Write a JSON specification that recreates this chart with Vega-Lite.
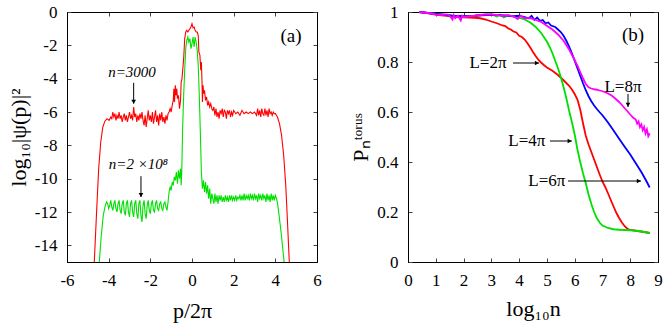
{
  "$schema": "https://vega.github.io/schema/vega-lite/v6.json",
  "background": "white",
  "padding": {"left": 6, "top": 2, "right": 5, "bottom": 5},
  "spacing": 27,
  "config": {
    "font": "Liberation Serif",
    "view": {"stroke": "#000", "strokeWidth": 1}
  },
  "hconcat": [
    {
      "width": 250,
      "height": 250,
      "resolve": {"axis": {"x": "independent", "y": "independent"}},
      "layer": [
        {
          "data": {"values": [
            {"p": -4.69, "v": -15}, {"p": -4.58, "v": -12}, {"p": -4.48, "v": -9.4}, {"p": -4.38, "v": -7.8}, {"p": -4.28, "v": -6.9}, {"p": -4.18, "v": -6.55}, {"p": -4.08, "v": -6.4}, {"p": -3.98, "v": -6.5}, {"p": -3.9, "v": -6.3}, {"p": -3.85, "v": -6.4}, {"p": -3.8, "v": -6.0}, {"p": -3.75, "v": -6.3}, {"p": -3.7, "v": -6.1}, {"p": -3.65, "v": -6.5}, {"p": -3.6, "v": -6.2}, {"p": -3.55, "v": -6.4}, {"p": -3.5, "v": -6.0}, {"p": -3.45, "v": -6.4}, {"p": -3.4, "v": -6.2}, {"p": -3.35, "v": -6.6}, {"p": -3.3, "v": -6.3}, {"p": -3.25, "v": -6.1}, {"p": -3.2, "v": -6.5}, {"p": -3.15, "v": -6.2}, {"p": -3.1, "v": -6.6}, {"p": -3.05, "v": -6.3}, {"p": -3.0, "v": -6.0}, {"p": -2.95, "v": -6.4}, {"p": -2.9, "v": -6.2}, {"p": -2.85, "v": -6.5}, {"p": -2.8, "v": -5.7}, {"p": -2.75, "v": -6.3}, {"p": -2.7, "v": -6.1}, {"p": -2.65, "v": -6.6}, {"p": -2.6, "v": -6.2}, {"p": -2.55, "v": -6.5}, {"p": -2.5, "v": -6.1}, {"p": -2.45, "v": -6.4}, {"p": -2.4, "v": -6.0}, {"p": -2.35, "v": -6.5}, {"p": -2.3, "v": -6.8}, {"p": -2.25, "v": -6.2}, {"p": -2.2, "v": -6.9}, {"p": -2.15, "v": -6.4}, {"p": -2.1, "v": -5.9}, {"p": -2.05, "v": -6.5}, {"p": -2.0, "v": -6.2}, {"p": -1.95, "v": -6.6}, {"p": -1.9, "v": -6.0}, {"p": -1.85, "v": -6.7}, {"p": -1.8, "v": -6.3}, {"p": -1.75, "v": -5.9}, {"p": -1.7, "v": -6.6}, {"p": -1.65, "v": -6.2}, {"p": -1.6, "v": -6.8}, {"p": -1.55, "v": -6.1}, {"p": -1.5, "v": -6.5}, {"p": -1.45, "v": -6.0}, {"p": -1.4, "v": -6.6}, {"p": -1.35, "v": -6.3}, {"p": -1.3, "v": -6.7}, {"p": -1.25, "v": -6.2}, {"p": -1.2, "v": -6.5}, {"p": -1.15, "v": -6.1}, {"p": -1.1, "v": -6.0}, {"p": -1.05, "v": -5.8}, {"p": -1.0, "v": -6.0}, {"p": -0.95, "v": -5.6}, {"p": -0.9, "v": -5.3}, {"p": -0.87, "v": -4.6}, {"p": -0.84, "v": -5.4}, {"p": -0.8, "v": -4.4}, {"p": -0.77, "v": -5.0}, {"p": -0.73, "v": -4.6}, {"p": -0.7, "v": -5.2}, {"p": -0.65, "v": -5.0}, {"p": -0.6, "v": -5.8}, {"p": -0.55, "v": -5.3}, {"p": -0.52, "v": -4.2}, {"p": -0.48, "v": -4.0}, {"p": -0.44, "v": -3.4}, {"p": -0.4, "v": -2.8}, {"p": -0.35, "v": -1.6}, {"p": -0.3, "v": -1.2}, {"p": -0.25, "v": -1.1}, {"p": -0.2, "v": -1.2}, {"p": -0.15, "v": -1.1}, {"p": -0.1, "v": -1.0}, {"p": -0.05, "v": -0.9}, {"p": 0.0, "v": -0.7}, {"p": 0.05, "v": -0.95}, {"p": 0.1, "v": -0.9}, {"p": 0.15, "v": -1.1}, {"p": 0.2, "v": -1.2}, {"p": 0.25, "v": -1.2}, {"p": 0.3, "v": -1.4}, {"p": 0.33, "v": -2.4}, {"p": 0.38, "v": -2.6}, {"p": 0.42, "v": -3.5}, {"p": 0.45, "v": -3.0}, {"p": 0.48, "v": -4.2}, {"p": 0.5, "v": -5.4}, {"p": 0.53, "v": -4.4}, {"p": 0.56, "v": -4.9}, {"p": 0.6, "v": -4.7}, {"p": 0.65, "v": -5.3}, {"p": 0.7, "v": -5.1}, {"p": 0.75, "v": -5.6}, {"p": 0.8, "v": -5.4}, {"p": 0.85, "v": -5.7}, {"p": 0.9, "v": -5.5}, {"p": 0.95, "v": -5.8}, {"p": 1.0, "v": -5.9}, {"p": 1.05, "v": -5.7}, {"p": 1.1, "v": -6.2}, {"p": 1.15, "v": -5.8}, {"p": 1.2, "v": -6.3}, {"p": 1.25, "v": -6.0}, {"p": 1.3, "v": -6.4}, {"p": 1.35, "v": -5.9}, {"p": 1.4, "v": -6.1}, {"p": 1.45, "v": -5.8}, {"p": 1.5, "v": -6.3}, {"p": 1.55, "v": -5.9}, {"p": 1.6, "v": -6.0}, {"p": 1.65, "v": -6.4}, {"p": 1.7, "v": -5.9}, {"p": 1.75, "v": -6.1}, {"p": 1.8, "v": -5.9}, {"p": 1.85, "v": -6.3}, {"p": 1.9, "v": -6.0}, {"p": 1.95, "v": -6.2}, {"p": 2.0, "v": -5.9}, {"p": 2.1, "v": -6.1}, {"p": 2.2, "v": -6.0}, {"p": 2.3, "v": -6.2}, {"p": 2.4, "v": -5.9}, {"p": 2.5, "v": -6.1}, {"p": 2.6, "v": -6.0}, {"p": 2.7, "v": -6.1}, {"p": 2.8, "v": -6.0}, {"p": 2.9, "v": -6.1}, {"p": 3.0, "v": -6.0}, {"p": 3.1, "v": -6.2}, {"p": 3.15, "v": -5.8}, {"p": 3.2, "v": -6.2}, {"p": 3.25, "v": -5.9}, {"p": 3.3, "v": -6.3}, {"p": 3.35, "v": -5.8}, {"p": 3.4, "v": -6.1}, {"p": 3.45, "v": -6.2}, {"p": 3.5, "v": -5.8}, {"p": 3.55, "v": -6.2}, {"p": 3.6, "v": -5.9}, {"p": 3.65, "v": -6.3}, {"p": 3.7, "v": -5.8}, {"p": 3.75, "v": -6.1}, {"p": 3.8, "v": -6.0}, {"p": 3.85, "v": -6.2}, {"p": 3.9, "v": -6.0}, {"p": 3.95, "v": -6.1}, {"p": 4.0, "v": -6.1}, {"p": 4.05, "v": -6.2}, {"p": 4.1, "v": -6.3}, {"p": 4.2, "v": -6.7}, {"p": 4.3, "v": -7.4}, {"p": 4.4, "v": -8.6}, {"p": 4.5, "v": -10.4}, {"p": 4.58, "v": -12.5}, {"p": 4.67, "v": -15}
          ]},
          "mark": {"type": "line", "color": "#ff0000", "strokeWidth": 1.1},
          "encoding": {
            "x": {"field": "p", "type": "quantitative", "scale": {"domain": [-6, 6], "nice": false, "zero": false},
              "axis": {"orient": "bottom", "values": [-6, -4, -2, 0, 2, 4, 6], "labelExpr": "'' + datum.value", "title": "p/2π", "titlePadding": 12,
                "grid": false, "labelFont": "Liberation Serif", "titleFont": "Liberation Serif", "labelFontSize": 17, "titleFontSize": 22, "titleFontWeight": "normal", "labelColor": "#000", "titleColor": "#000", "domainColor": "#000", "tickColor": "#444", "tickSize": -4, "labelPadding": 14, "labelFlush": false, "labelOverlap": false}},
            "y": {"field": "v", "type": "quantitative", "scale": {"domain": [-15, 0], "nice": false, "zero": false},
              "axis": {"orient": "left", "values": [-14, -12, -10, -8, -6, -4, -2, 0], "labelExpr": "'' + datum.value", "title": "log₁₀|ψ(p)|²", "titlePadding": 4,
                "grid": false, "labelFont": "Liberation Serif", "titleFont": "Liberation Serif", "labelFontSize": 17, "titleFontSize": 22, "titleFontWeight": "normal", "labelColor": "#000", "titleColor": "#000", "domainColor": "#000", "tickColor": "#444", "tickSize": -4, "labelPadding": 14, "labelFlush": false, "labelOverlap": false}}
          }
        },
        {
          "data": {"values": [
            {"p": -4.45, "v": -15}, {"p": -4.36, "v": -13.5}, {"p": -4.26, "v": -12.2}, {"p": -4.16, "v": -11.6}, {"p": -4.1, "v": -11.4}, {"p": -4.05, "v": -11.5}, {"p": -4.0, "v": -11.8}, {"p": -3.95, "v": -11.6}, {"p": -3.9, "v": -11.3}, {"p": -3.85, "v": -11.7}, {"p": -3.8, "v": -11.9}, {"p": -3.75, "v": -11.5}, {"p": -3.7, "v": -11.3}, {"p": -3.65, "v": -11.8}, {"p": -3.6, "v": -12.0}, {"p": -3.55, "v": -11.5}, {"p": -3.5, "v": -11.3}, {"p": -3.45, "v": -11.9}, {"p": -3.4, "v": -12.1}, {"p": -3.35, "v": -11.5}, {"p": -3.3, "v": -11.3}, {"p": -3.25, "v": -12.0}, {"p": -3.2, "v": -12.2}, {"p": -3.15, "v": -11.5}, {"p": -3.1, "v": -11.3}, {"p": -3.05, "v": -12.0}, {"p": -3.0, "v": -12.3}, {"p": -2.95, "v": -11.5}, {"p": -2.9, "v": -11.3}, {"p": -2.85, "v": -12.0}, {"p": -2.8, "v": -12.3}, {"p": -2.75, "v": -11.5}, {"p": -2.7, "v": -11.3}, {"p": -2.65, "v": -12.1}, {"p": -2.6, "v": -12.4}, {"p": -2.55, "v": -11.5}, {"p": -2.5, "v": -11.3}, {"p": -2.45, "v": -12.2}, {"p": -2.4, "v": -12.6}, {"p": -2.35, "v": -11.6}, {"p": -2.3, "v": -11.3}, {"p": -2.25, "v": -12.1}, {"p": -2.2, "v": -12.4}, {"p": -2.15, "v": -11.6}, {"p": -2.1, "v": -11.3}, {"p": -2.05, "v": -11.9}, {"p": -2.0, "v": -12.1}, {"p": -1.95, "v": -11.5}, {"p": -1.9, "v": -11.3}, {"p": -1.85, "v": -11.9}, {"p": -1.8, "v": -12.0}, {"p": -1.75, "v": -11.5}, {"p": -1.7, "v": -11.3}, {"p": -1.65, "v": -11.8}, {"p": -1.6, "v": -11.9}, {"p": -1.55, "v": -11.5}, {"p": -1.5, "v": -11.4}, {"p": -1.45, "v": -11.8}, {"p": -1.4, "v": -11.9}, {"p": -1.35, "v": -11.5}, {"p": -1.3, "v": -11.4}, {"p": -1.25, "v": -11.7}, {"p": -1.2, "v": -11.9}, {"p": -1.15, "v": -11.4}, {"p": -1.1, "v": -10.8}, {"p": -1.05, "v": -10.5}, {"p": -1.0, "v": -10.7}, {"p": -0.95, "v": -10.2}, {"p": -0.9, "v": -10.4}, {"p": -0.85, "v": -9.9}, {"p": -0.8, "v": -10.1}, {"p": -0.75, "v": -9.6}, {"p": -0.7, "v": -10.3}, {"p": -0.65, "v": -9.5}, {"p": -0.6, "v": -10.0}, {"p": -0.55, "v": -9.4}, {"p": -0.52, "v": -10.4}, {"p": -0.49, "v": -9.5}, {"p": -0.45, "v": -7.0}, {"p": -0.4, "v": -5.0}, {"p": -0.35, "v": -3.5}, {"p": -0.3, "v": -2.2}, {"p": -0.25, "v": -1.7}, {"p": -0.2, "v": -1.5}, {"p": -0.15, "v": -1.8}, {"p": -0.1, "v": -1.6}, {"p": -0.05, "v": -2.2}, {"p": 0.0, "v": -1.9}, {"p": 0.05, "v": -1.5}, {"p": 0.1, "v": -2.1}, {"p": 0.15, "v": -1.5}, {"p": 0.2, "v": -1.8}, {"p": 0.25, "v": -2.3}, {"p": 0.3, "v": -3.2}, {"p": 0.35, "v": -5.0}, {"p": 0.4, "v": -7.2}, {"p": 0.45, "v": -9.6}, {"p": 0.5, "v": -10.6}, {"p": 0.55, "v": -10.1}, {"p": 0.6, "v": -10.8}, {"p": 0.65, "v": -10.2}, {"p": 0.7, "v": -10.9}, {"p": 0.75, "v": -10.4}, {"p": 0.8, "v": -11.2}, {"p": 0.85, "v": -10.6}, {"p": 0.9, "v": -11.5}, {"p": 0.95, "v": -10.9}, {"p": 1.0, "v": -11.2}, {"p": 1.05, "v": -11.5}, {"p": 1.1, "v": -10.9}, {"p": 1.15, "v": -11.4}, {"p": 1.2, "v": -11.0}, {"p": 1.25, "v": -11.5}, {"p": 1.3, "v": -11.0}, {"p": 1.35, "v": -11.3}, {"p": 1.4, "v": -11.0}, {"p": 1.45, "v": -11.4}, {"p": 1.5, "v": -11.1}, {"p": 1.55, "v": -11.4}, {"p": 1.6, "v": -11.0}, {"p": 1.65, "v": -11.3}, {"p": 1.7, "v": -11.1}, {"p": 1.75, "v": -11.4}, {"p": 1.8, "v": -11.0}, {"p": 1.85, "v": -11.3}, {"p": 1.9, "v": -11.0}, {"p": 1.95, "v": -11.3}, {"p": 2.0, "v": -11.1}, {"p": 2.05, "v": -11.3}, {"p": 2.1, "v": -11.0}, {"p": 2.15, "v": -11.3}, {"p": 2.2, "v": -11.1}, {"p": 2.25, "v": -11.2}, {"p": 2.3, "v": -11.0}, {"p": 2.35, "v": -11.3}, {"p": 2.4, "v": -11.0}, {"p": 2.45, "v": -11.3}, {"p": 2.5, "v": -10.9}, {"p": 2.55, "v": -11.3}, {"p": 2.6, "v": -11.0}, {"p": 2.65, "v": -11.2}, {"p": 2.7, "v": -11.0}, {"p": 2.75, "v": -11.3}, {"p": 2.8, "v": -10.9}, {"p": 2.85, "v": -11.2}, {"p": 2.9, "v": -11.0}, {"p": 2.95, "v": -11.3}, {"p": 3.0, "v": -10.9}, {"p": 3.05, "v": -11.2}, {"p": 3.1, "v": -11.0}, {"p": 3.15, "v": -11.4}, {"p": 3.2, "v": -10.9}, {"p": 3.25, "v": -11.2}, {"p": 3.3, "v": -11.0}, {"p": 3.35, "v": -11.3}, {"p": 3.4, "v": -10.9}, {"p": 3.45, "v": -11.2}, {"p": 3.5, "v": -11.0}, {"p": 3.55, "v": -11.4}, {"p": 3.6, "v": -10.9}, {"p": 3.65, "v": -11.3}, {"p": 3.7, "v": -11.0}, {"p": 3.75, "v": -11.4}, {"p": 3.8, "v": -10.9}, {"p": 3.85, "v": -11.3}, {"p": 3.9, "v": -11.0}, {"p": 3.95, "v": -11.3}, {"p": 4.0, "v": -11.0}, {"p": 4.06, "v": -11.2}, {"p": 4.12, "v": -11.6}, {"p": 4.2, "v": -12.4}, {"p": 4.3, "v": -13.5}, {"p": 4.42, "v": -15}
          ]},
          "mark": {"type": "line", "color": "#00e000", "strokeWidth": 1.1},
          "encoding": {
            "x": {"field": "p", "type": "quantitative", "axis": {"orient": "top", "values": [-6, -4, -2, 0, 2, 4, 6], "labels": false, "title": null, "grid": false, "domainColor": "#000", "tickColor": "#444", "tickSize": -4}},
            "y": {"field": "v", "type": "quantitative", "axis": {"orient": "right", "values": [-14, -12, -10, -8, -6, -4, -2, 0], "labels": false, "title": null, "grid": false, "domainColor": "#000", "tickColor": "#444", "tickSize": -4}}
          }
        },
        {
          "data": {"values": [{"x": -2.8, "y": -4.25, "x2": -2.8, "y2": -5.5}, {"x": -2.45, "y": -9.85, "x2": -2.45, "y2": -11.1}]},
          "mark": {"type": "rule", "color": "#000", "strokeWidth": 1},
          "encoding": {
            "x": {"field": "x", "type": "quantitative", "axis": null},
            "y": {"field": "y", "type": "quantitative", "axis": null},
            "x2": {"field": "x2"},
            "y2": {"field": "y2"}
          }
        },
        {
          "data": {"values": [{"x": -2.8, "y": -5.38}, {"x": -2.45, "y": -10.98}]},
          "mark": {"type": "point", "shape": "triangle-down", "filled": true, "color": "#000", "size": 22, "opacity": 1},
          "encoding": {
            "x": {"field": "x", "type": "quantitative", "axis": null},
            "y": {"field": "y", "type": "quantitative", "axis": null}
          }
        },
        {
          "data": {"values": [{"x": -2.88, "y": -3.6, "t": "n=3000"}, {"x": -2.57, "y": -9.1, "t": "n=2 ×10⁸"}]},
          "mark": {"type": "text", "fontStyle": "italic", "fontSize": 15, "baseline": "middle", "align": "center", "color": "#000"},
          "encoding": {
            "x": {"field": "x", "type": "quantitative", "axis": null},
            "y": {"field": "y", "type": "quantitative", "axis": null},
            "text": {"field": "t"}
          }
        },
        {
          "data": {"values": [{"x": 4.75, "y": -1.44, "t": "(a)"}]},
          "mark": {"type": "text", "fontSize": 19, "baseline": "middle", "align": "center", "color": "#000"},
          "encoding": {
            "x": {"field": "x", "type": "quantitative", "axis": null},
            "y": {"field": "y", "type": "quantitative", "axis": null},
            "text": {"field": "t"}
          }
        }
      ]
    },
    {
      "width": 250,
      "height": 250,
      "resolve": {"axis": {"x": "independent", "y": "independent"}},
      "layer": [
        {
          "data": {"values": [
            {"x": 0.4, "y": 1.0}, {"x": 0.6, "y": 0.997}, {"x": 0.8, "y": 0.994}, {"x": 1.0, "y": 0.99}, {"x": 1.2, "y": 0.987}, {"x": 1.4, "y": 0.985}, {"x": 1.6, "y": 0.982}, {"x": 1.8, "y": 0.98}, {"x": 2.0, "y": 0.979}, {"x": 2.2, "y": 0.978}, {"x": 2.4, "y": 0.977}, {"x": 2.6, "y": 0.975}, {"x": 2.8, "y": 0.97}, {"x": 3.0, "y": 0.962}, {"x": 3.2, "y": 0.955}, {"x": 3.4, "y": 0.946}, {"x": 3.5, "y": 0.944}, {"x": 3.6, "y": 0.935}, {"x": 3.7, "y": 0.93}, {"x": 3.8, "y": 0.922}, {"x": 3.9, "y": 0.918}, {"x": 4.0, "y": 0.905}, {"x": 4.1, "y": 0.9}, {"x": 4.2, "y": 0.89}, {"x": 4.3, "y": 0.875}, {"x": 4.4, "y": 0.858}, {"x": 4.5, "y": 0.84}, {"x": 4.6, "y": 0.823}, {"x": 4.7, "y": 0.808}, {"x": 4.8, "y": 0.797}, {"x": 4.9, "y": 0.787}, {"x": 5.0, "y": 0.778}, {"x": 5.2, "y": 0.765}, {"x": 5.4, "y": 0.748}, {"x": 5.6, "y": 0.727}, {"x": 5.8, "y": 0.705}, {"x": 5.9, "y": 0.69}, {"x": 6.0, "y": 0.672}, {"x": 6.1, "y": 0.65}, {"x": 6.2, "y": 0.61}, {"x": 6.3, "y": 0.555}, {"x": 6.4, "y": 0.505}, {"x": 6.5, "y": 0.47}, {"x": 6.6, "y": 0.44}, {"x": 6.7, "y": 0.41}, {"x": 6.8, "y": 0.38}, {"x": 6.9, "y": 0.35}, {"x": 7.0, "y": 0.322}, {"x": 7.1, "y": 0.3}, {"x": 7.2, "y": 0.275}, {"x": 7.3, "y": 0.248}, {"x": 7.4, "y": 0.222}, {"x": 7.5, "y": 0.197}, {"x": 7.6, "y": 0.176}, {"x": 7.7, "y": 0.158}, {"x": 7.8, "y": 0.143}, {"x": 7.9, "y": 0.133}, {"x": 8.0, "y": 0.128}, {"x": 8.2, "y": 0.125}, {"x": 8.4, "y": 0.122}, {"x": 8.6, "y": 0.118}, {"x": 8.7, "y": 0.116}
          ]},
          "mark": {"type": "line", "color": "#ff0000", "strokeWidth": 1.8},
          "encoding": {
            "x": {"field": "x", "type": "quantitative", "scale": {"domain": [0, 9], "nice": false},
              "axis": {"orient": "bottom", "values": [0, 1, 2, 3, 4, 5, 6, 7, 8, 9], "title": "log₁₀n", "titlePadding": 10,
                "grid": false, "labelFont": "Liberation Serif", "titleFont": "Liberation Serif", "labelFontSize": 17, "titleFontSize": 22, "titleFontWeight": "normal", "labelColor": "#000", "titleColor": "#000", "domainColor": "#000", "tickColor": "#444", "tickSize": -4, "labelPadding": 14, "labelFlush": false, "labelOverlap": false}},
            "y": {"field": "y", "type": "quantitative", "scale": {"domain": [0, 1], "nice": false},
              "axis": {"orient": "left", "values": [0, 0.2, 0.4, 0.6, 0.8, 1], "format": ".1~f", "title": "Pₙᵗᵒʳᵘˢ", "titlePadding": 4,
                "grid": false, "labelFont": "Liberation Serif", "titleFont": "Liberation Serif", "labelFontSize": 17, "titleFontSize": 22, "titleFontWeight": "normal", "labelColor": "#000", "titleColor": "#000", "domainColor": "#000", "tickColor": "#444", "tickSize": -4, "labelPadding": 14, "labelFlush": false, "labelOverlap": false}}
          }
        },
        {
          "data": {"values": [
            {"x": 0.4, "y": 1.0}, {"x": 0.8, "y": 0.995}, {"x": 1.2, "y": 0.99}, {"x": 1.6, "y": 0.985}, {"x": 2.0, "y": 0.982}, {"x": 2.4, "y": 0.985}, {"x": 2.8, "y": 0.99}, {"x": 3.0, "y": 0.99}, {"x": 3.2, "y": 0.982}, {"x": 3.3, "y": 0.99}, {"x": 3.45, "y": 0.978}, {"x": 3.6, "y": 0.986}, {"x": 3.8, "y": 0.982}, {"x": 4.0, "y": 0.977}, {"x": 4.2, "y": 0.97}, {"x": 4.4, "y": 0.958}, {"x": 4.6, "y": 0.94}, {"x": 4.8, "y": 0.915}, {"x": 5.0, "y": 0.882}, {"x": 5.1, "y": 0.86}, {"x": 5.2, "y": 0.835}, {"x": 5.3, "y": 0.805}, {"x": 5.4, "y": 0.775}, {"x": 5.5, "y": 0.74}, {"x": 5.6, "y": 0.7}, {"x": 5.7, "y": 0.655}, {"x": 5.8, "y": 0.605}, {"x": 5.9, "y": 0.56}, {"x": 6.0, "y": 0.51}, {"x": 6.1, "y": 0.45}, {"x": 6.2, "y": 0.4}, {"x": 6.3, "y": 0.355}, {"x": 6.4, "y": 0.315}, {"x": 6.5, "y": 0.27}, {"x": 6.6, "y": 0.232}, {"x": 6.7, "y": 0.2}, {"x": 6.8, "y": 0.175}, {"x": 6.9, "y": 0.158}, {"x": 7.0, "y": 0.146}, {"x": 7.2, "y": 0.136}, {"x": 7.4, "y": 0.131}, {"x": 7.6, "y": 0.129}, {"x": 7.8, "y": 0.128}, {"x": 8.0, "y": 0.127}, {"x": 8.2, "y": 0.125}, {"x": 8.4, "y": 0.122}, {"x": 8.6, "y": 0.118}, {"x": 8.7, "y": 0.116}
          ]},
          "mark": {"type": "line", "color": "#00e000", "strokeWidth": 1.8},
          "encoding": {
            "x": {"field": "x", "type": "quantitative", "axis": {"orient": "top", "values": [0, 1, 2, 3, 4, 5, 6, 7, 8, 9], "labels": false, "title": null, "grid": false, "domainColor": "#000", "tickColor": "#444", "tickSize": -4}},
            "y": {"field": "y", "type": "quantitative", "axis": {"orient": "right", "values": [0, 0.2, 0.4, 0.6, 0.8, 1], "labels": false, "title": null, "grid": false, "domainColor": "#000", "tickColor": "#444", "tickSize": -4}}
          }
        },
        {
          "data": {"values": [
            {"x": 0.4, "y": 1.0}, {"x": 0.8, "y": 0.995}, {"x": 1.2, "y": 0.99}, {"x": 1.6, "y": 0.985}, {"x": 2.0, "y": 0.983}, {"x": 2.4, "y": 0.985}, {"x": 2.8, "y": 0.988}, {"x": 3.2, "y": 0.988}, {"x": 3.6, "y": 0.985}, {"x": 3.8, "y": 0.983}, {"x": 4.0, "y": 0.985}, {"x": 4.2, "y": 0.98}, {"x": 4.35, "y": 0.975}, {"x": 4.45, "y": 0.985}, {"x": 4.55, "y": 0.968}, {"x": 4.65, "y": 0.978}, {"x": 4.75, "y": 0.965}, {"x": 4.85, "y": 0.968}, {"x": 4.95, "y": 0.955}, {"x": 5.05, "y": 0.958}, {"x": 5.15, "y": 0.946}, {"x": 5.3, "y": 0.94}, {"x": 5.4, "y": 0.93}, {"x": 5.5, "y": 0.92}, {"x": 5.6, "y": 0.905}, {"x": 5.7, "y": 0.885}, {"x": 5.8, "y": 0.862}, {"x": 5.9, "y": 0.835}, {"x": 6.0, "y": 0.805}, {"x": 6.1, "y": 0.775}, {"x": 6.2, "y": 0.745}, {"x": 6.3, "y": 0.715}, {"x": 6.4, "y": 0.687}, {"x": 6.5, "y": 0.663}, {"x": 6.6, "y": 0.643}, {"x": 6.7, "y": 0.626}, {"x": 6.8, "y": 0.612}, {"x": 6.9, "y": 0.599}, {"x": 7.0, "y": 0.587}, {"x": 7.2, "y": 0.558}, {"x": 7.4, "y": 0.526}, {"x": 7.6, "y": 0.493}, {"x": 7.8, "y": 0.461}, {"x": 8.0, "y": 0.43}, {"x": 8.2, "y": 0.395}, {"x": 8.4, "y": 0.36}, {"x": 8.6, "y": 0.32}, {"x": 8.7, "y": 0.298}
          ]},
          "mark": {"type": "line", "color": "#0000ff", "strokeWidth": 1.8},
          "encoding": {
            "x": {"field": "x", "type": "quantitative", "axis": null},
            "y": {"field": "y", "type": "quantitative", "axis": null}
          }
        },
        {
          "data": {"values": [
            {"x": 0.4, "y": 1.0}, {"x": 0.8, "y": 0.995}, {"x": 1.0, "y": 0.99}, {"x": 1.2, "y": 0.988}, {"x": 1.4, "y": 0.99}, {"x": 1.5, "y": 0.985}, {"x": 1.6, "y": 0.97}, {"x": 1.65, "y": 0.988}, {"x": 1.7, "y": 0.975}, {"x": 1.8, "y": 0.985}, {"x": 1.9, "y": 0.966}, {"x": 1.95, "y": 0.985}, {"x": 2.0, "y": 0.98}, {"x": 2.2, "y": 0.983}, {"x": 2.4, "y": 0.985}, {"x": 2.6, "y": 0.988}, {"x": 2.8, "y": 0.99}, {"x": 3.0, "y": 0.99}, {"x": 3.2, "y": 0.988}, {"x": 3.4, "y": 0.985}, {"x": 3.6, "y": 0.987}, {"x": 3.8, "y": 0.983}, {"x": 3.95, "y": 0.972}, {"x": 4.05, "y": 0.985}, {"x": 4.2, "y": 0.975}, {"x": 4.4, "y": 0.975}, {"x": 4.6, "y": 0.968}, {"x": 4.8, "y": 0.96}, {"x": 5.0, "y": 0.945}, {"x": 5.2, "y": 0.93}, {"x": 5.4, "y": 0.91}, {"x": 5.6, "y": 0.885}, {"x": 5.8, "y": 0.85}, {"x": 6.0, "y": 0.808}, {"x": 6.1, "y": 0.785}, {"x": 6.2, "y": 0.76}, {"x": 6.3, "y": 0.735}, {"x": 6.4, "y": 0.712}, {"x": 6.5, "y": 0.699}, {"x": 6.6, "y": 0.694}, {"x": 6.7, "y": 0.691}, {"x": 6.8, "y": 0.689}, {"x": 6.9, "y": 0.686}, {"x": 7.0, "y": 0.683}, {"x": 7.1, "y": 0.679}, {"x": 7.2, "y": 0.674}, {"x": 7.3, "y": 0.668}, {"x": 7.4, "y": 0.66}, {"x": 7.5, "y": 0.65}, {"x": 7.6, "y": 0.64}, {"x": 7.7, "y": 0.628}, {"x": 7.8, "y": 0.615}, {"x": 7.9, "y": 0.603}, {"x": 8.0, "y": 0.59}, {"x": 8.1, "y": 0.578}, {"x": 8.2, "y": 0.57}, {"x": 8.25, "y": 0.553}, {"x": 8.3, "y": 0.562}, {"x": 8.35, "y": 0.54}, {"x": 8.4, "y": 0.55}, {"x": 8.45, "y": 0.527}, {"x": 8.5, "y": 0.54}, {"x": 8.55, "y": 0.514}, {"x": 8.6, "y": 0.53}, {"x": 8.65, "y": 0.503}, {"x": 8.7, "y": 0.515}
          ]},
          "mark": {"type": "line", "color": "#ff00ff", "strokeWidth": 1.8},
          "encoding": {
            "x": {"field": "x", "type": "quantitative", "axis": null},
            "y": {"field": "y", "type": "quantitative", "axis": null}
          }
        },
        {
          "data": {"values": [{"x": 3.78, "y": 0.796, "x2": 4.72, "y2": 0.796}, {"x": 5.11, "y": 0.484, "x2": 5.9, "y2": 0.484}, {"x": 5.76, "y": 0.324, "x2": 8.39, "y2": 0.324}, {"x": 7.92, "y": 0.672, "x2": 7.92, "y2": 0.62}]},
          "mark": {"type": "rule", "color": "#000", "strokeWidth": 1},
          "encoding": {
            "x": {"field": "x", "type": "quantitative", "axis": null},
            "y": {"field": "y", "type": "quantitative", "axis": null},
            "x2": {"field": "x2"},
            "y2": {"field": "y2"}
          }
        },
        {
          "data": {"values": [{"x": 4.64, "y": 0.796}, {"x": 5.82, "y": 0.484}, {"x": 8.31, "y": 0.324}]},
          "mark": {"type": "point", "shape": "triangle-right", "filled": true, "color": "#000", "size": 22, "opacity": 1},
          "encoding": {
            "x": {"field": "x", "type": "quantitative", "axis": null},
            "y": {"field": "y", "type": "quantitative", "axis": null}
          }
        },
        {
          "data": {"values": [{"x": 7.92, "y": 0.629}]},
          "mark": {"type": "point", "shape": "triangle-down", "filled": true, "color": "#000", "size": 22, "opacity": 1},
          "encoding": {
            "x": {"field": "x", "type": "quantitative", "axis": null},
            "y": {"field": "y", "type": "quantitative", "axis": null}
          }
        },
        {
          "data": {"values": [{"x": 2.88, "y": 0.796, "t": "L=2π"}, {"x": 4.28, "y": 0.484, "t": "L=4π"}, {"x": 5.0, "y": 0.324, "t": "L=6π"}, {"x": 7.74, "y": 0.70, "t": "L=8π"}]},
          "mark": {"type": "text", "fontSize": 17, "baseline": "middle", "align": "center", "color": "#000"},
          "encoding": {
            "x": {"field": "x", "type": "quantitative", "axis": null},
            "y": {"field": "y", "type": "quantitative", "axis": null},
            "text": {"field": "t"}
          }
        },
        {
          "data": {"values": [{"x": 8.1, "y": 0.908, "t": "(b)"}]},
          "mark": {"type": "text", "fontSize": 19, "baseline": "middle", "align": "center", "color": "#000"},
          "encoding": {
            "x": {"field": "x", "type": "quantitative", "axis": null},
            "y": {"field": "y", "type": "quantitative", "axis": null},
            "text": {"field": "t"}
          }
        }
      ]
    }
  ]
}
